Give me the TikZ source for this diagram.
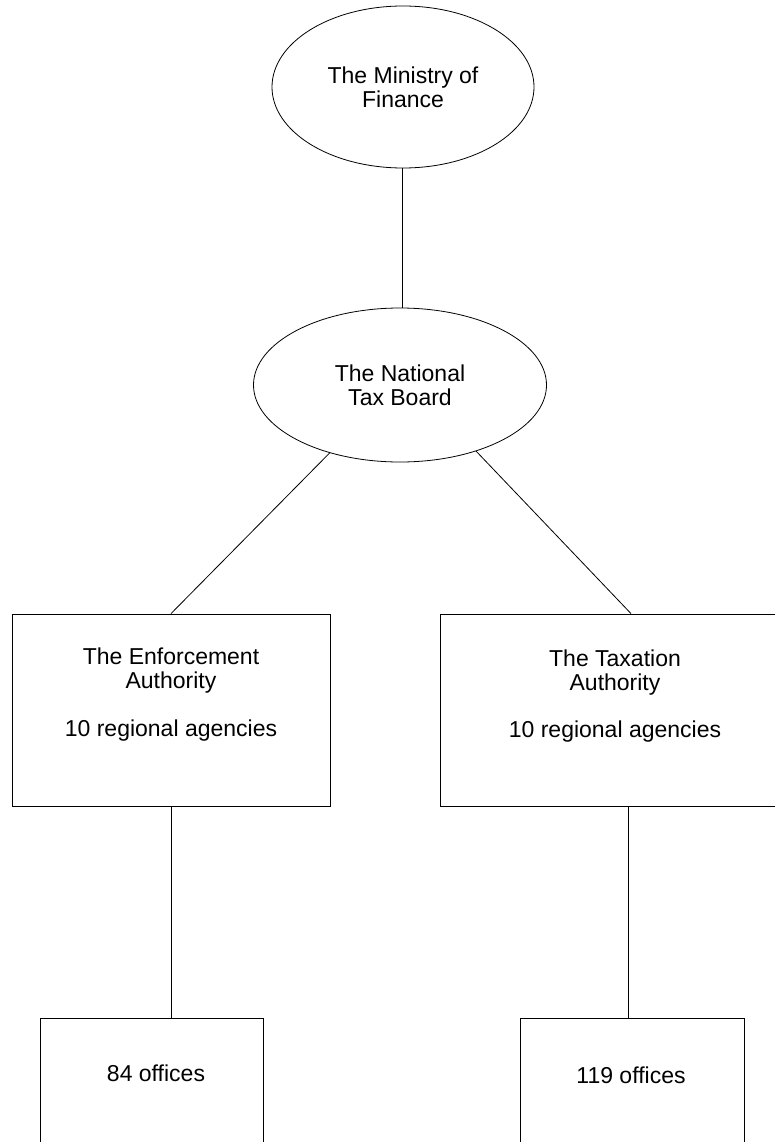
\documentclass[tikz,border=0pt]{standalone}
\usepackage{fontspec}
\setmainfont{Liberation Sans}
\usetikzlibrary{shapes.geometric}
\begin{document}
\begin{tikzpicture}[x=1pt,y=-1pt,
  every node/.style={font=\fontsize{23}{24}\selectfont, text=black},
  oval/.style={draw, ellipse, line width=0.8pt, inner sep=0pt, align=center},
  box/.style={draw, rectangle, line width=0.8pt, inner sep=0pt},
  lbl/.style={align=center, inner sep=0pt},
  conn/.style={line width=0.8pt}]
\useasboundingbox (0,0) rectangle (775,1142);
\clip (0,0) rectangle (775,1142);
\fill[white] (0,0) rectangle (775,1142);
% nodes
\node[oval, minimum width=262pt, minimum height=162pt] (mof) at (403,87) {The Ministry of\\Finance};
\node[oval, minimum width=293pt, minimum height=154pt] (ntb) at (400,385) {The National\\Tax Board};
\node[box, minimum width=318pt, minimum height=192pt] (enf) at (171,710) {};
\node[box, minimum width=350pt, minimum height=192pt] (tax) at (615,710) {};
\node[lbl] (enft) at (171,695) {The Enforcement\\Authority\\[24pt]10 regional agencies};
\node[lbl] (taxt) at (615,696) {The Taxation\\Authority\\[23pt]10 regional agencies};
\node[box, minimum width=223pt, minimum height=182pt] (off84) at (151.5,1109) {};
\node[box, minimum width=224pt, minimum height=182pt] (off119) at (632,1109) {};
\node[lbl] (off84t) at (156,1073) {84 offices};
\node[lbl] (off119t) at (631,1075) {119 offices};
% connectors
\draw[conn] ([xshift=-1pt]mof.south) -- ([xshift=-1pt]mof.south |- ntb.north);
\draw[conn] (ntb.224) -- (enf.north);
\draw[conn] (ntb.319) -- ([xshift=16pt]tax.north);
\draw[conn] (enf.south) -- (enf.south |- off84.north);
\draw[conn] ([xshift=13pt]tax.south) -- ([xshift=13pt]tax.south |- off119.north);
\end{tikzpicture}
\end{document}
